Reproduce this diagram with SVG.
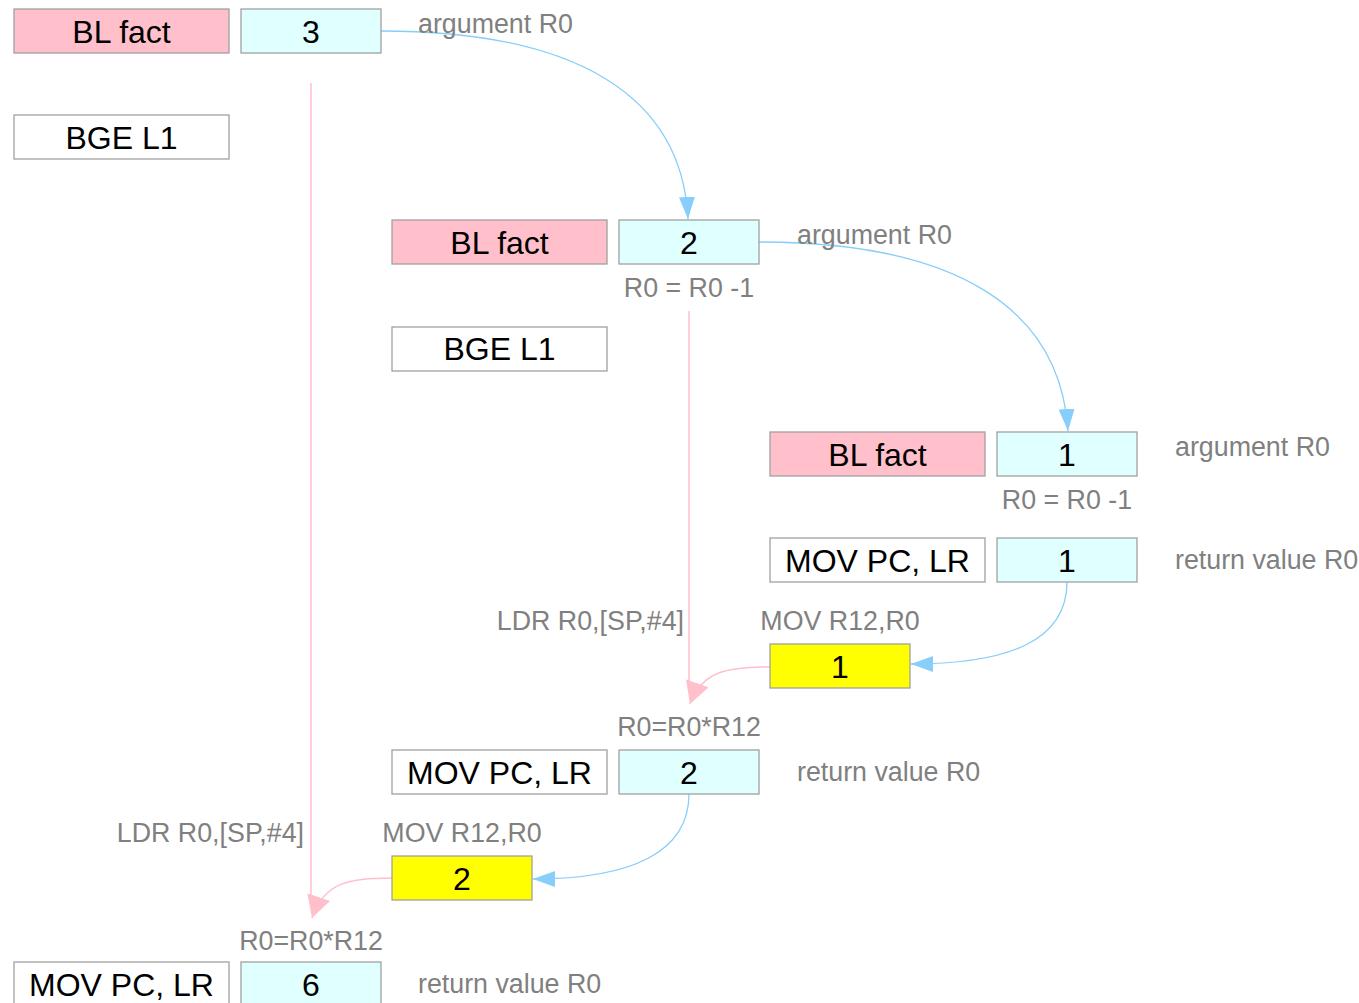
<svg xmlns="http://www.w3.org/2000/svg" width="1359" height="1003" viewBox="0 0 1359 1003">
<style>
.b{stroke:#a0a0a0;stroke-width:1.3}
.pk{fill:#ffc0cb}.cy{fill:#e0ffff}.wh{fill:#ffffff}.ye{fill:#ffff00}
.t{font-family:"Liberation Sans",Arial,sans-serif;font-size:32px;fill:#000;text-anchor:middle}
.g{font-family:"Liberation Sans",Arial,sans-serif;font-size:26.8px;fill:#808080}
.m{text-anchor:middle}.e{text-anchor:end}
.bl{fill:none;stroke:#87cefa;stroke-width:1.3}
.pl{fill:none;stroke:#ffc0cb;stroke-width:1.5}
</style>
<defs>
<marker id="ab" viewBox="0 0 22 16" refX="22" refY="8" markerWidth="22" markerHeight="16" markerUnits="userSpaceOnUse" orient="auto"><path d="M0,0L22,8L0,16Z" fill="#87cefa"/></marker>
<marker id="ap" viewBox="0 0 22 24" refX="22" refY="12" markerWidth="22" markerHeight="24" markerUnits="userSpaceOnUse" orient="auto"><path d="M0,0L22,12L0,24Z" fill="#ffc0cb"/></marker>
</defs>
<g id="connectors">
<path class="bl" d="M381,31 C575,31 682,95 688,219" marker-end="url(#ab)"/>
<path class="bl" d="M759,242 C953,242 1060,306 1068,431" marker-end="url(#ab)"/>
<path class="bl" d="M1067,582 C1067,640 1010,664 911,664" marker-end="url(#ab)"/>
<path class="bl" d="M689,794 C689,852 632,879 533,879" marker-end="url(#ab)"/>
<line class="pl" x1="689" y1="311" x2="689" y2="688"/>
<path class="pl" d="M770,667 C730,667 702,670 690,704" marker-end="url(#ap)"/>
<line class="pl" x1="311" y1="83" x2="311" y2="900"/>
<path class="pl" d="M392,878 C352,878 324,881 312,918" marker-end="url(#ap)"/>
</g>
<g id="n1"><rect class="b pk" x="14" y="9" width="215" height="44"/><text class="t" x="121.5" y="43">BL fact</text></g>
<g id="n2"><rect class="b cy" x="241" y="9" width="140" height="44"/><text class="t" x="311" y="43">3</text></g>
<g id="l1"><text class="g" x="418" y="33">argument R0</text></g>
<g id="n3"><rect class="b wh" x="14" y="115" width="215" height="44"/><text class="t" x="121.5" y="149">BGE L1</text></g>
<g id="n4"><rect class="b pk" x="392" y="220" width="215" height="44"/><text class="t" x="499.5" y="254">BL fact</text></g>
<g id="n5"><rect class="b cy" x="619" y="220" width="140" height="44"/><text class="t" x="689" y="254">2</text></g>
<g id="l2"><text class="g" x="797" y="244">argument R0</text></g>
<g id="l3"><text class="g m" x="689" y="297">R0 = R0 -1</text></g>
<g id="n6"><rect class="b wh" x="392" y="327" width="215" height="44"/><text class="t" x="499.5" y="360">BGE L1</text></g>
<g id="n7"><rect class="b pk" x="770" y="432" width="215" height="44"/><text class="t" x="877.5" y="466">BL fact</text></g>
<g id="n8"><rect class="b cy" x="997" y="432" width="140" height="44"/><text class="t" x="1067" y="466">1</text></g>
<g id="l4"><text class="g" x="1175" y="456">argument R0</text></g>
<g id="l5"><text class="g m" x="1067" y="509">R0 = R0 -1</text></g>
<g id="n9"><rect class="b wh" x="770" y="538" width="215" height="44"/><text class="t" x="877.5" y="572">MOV PC, LR</text></g>
<g id="n10"><rect class="b cy" x="997" y="538" width="140" height="44"/><text class="t" x="1067" y="572">1</text></g>
<g id="l6"><text class="g" x="1175" y="569">return value R0</text></g>
<g id="l7"><text class="g e" x="684" y="630">LDR R0,[SP,#4]</text></g>
<g id="l8"><text class="g m" x="840" y="630">MOV R12,R0</text></g>
<g id="n11"><rect class="b ye" x="770" y="644" width="140" height="44"/><text class="t" x="840" y="678">1</text></g>
<g id="l9"><text class="g m" x="689" y="736">R0=R0*R12</text></g>
<g id="n12"><rect class="b wh" x="392" y="750" width="215" height="44"/><text class="t" x="499.5" y="784">MOV PC, LR</text></g>
<g id="n13"><rect class="b cy" x="619" y="750" width="140" height="44"/><text class="t" x="689" y="784">2</text></g>
<g id="l10"><text class="g" x="797" y="781">return value R0</text></g>
<g id="l11"><text class="g e" x="304" y="842">LDR R0,[SP,#4]</text></g>
<g id="l12"><text class="g m" x="462" y="842">MOV R12,R0</text></g>
<g id="n14"><rect class="b ye" x="392" y="856" width="140" height="44"/><text class="t" x="462" y="890">2</text></g>
<g id="l13"><text class="g m" x="311" y="950">R0=R0*R12</text></g>
<g id="n15"><rect class="b wh" x="14" y="962" width="215" height="44"/><text class="t" x="121.5" y="996">MOV PC, LR</text></g>
<g id="n16"><rect class="b cy" x="241" y="962" width="140" height="44"/><text class="t" x="311" y="996">6</text></g>
<g id="l14"><text class="g" x="418" y="993">return value R0</text></g>
</svg>
